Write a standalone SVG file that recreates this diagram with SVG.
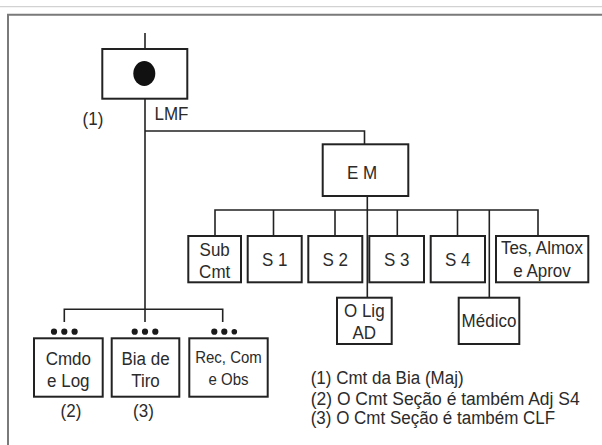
<svg xmlns="http://www.w3.org/2000/svg" width="602" height="445" viewBox="0 0 602 445">
<style>
  .box{fill:#fff;stroke:#222;stroke-width:2}
  .ln{fill:none;stroke:#222;stroke-width:1.6}
  .t{font-family:"Liberation Sans",Arial,sans-serif;font-size:17px;fill:#2b2b2b;text-anchor:middle}
  .s{font-size:15px}
  .l{text-anchor:start}
  .dot{fill:#1a1a1a}
</style>
<rect width="602" height="445" fill="#fff"/>
<line x1="0" y1="6.7" x2="602" y2="6.7" stroke="#d2d2d2" stroke-width="1.2"/>
<path d="M8 445 V14.7 H602" fill="none" stroke="#7a7a7a" stroke-width="2"/>

<g id="connectors">
  <path class="ln" d="M145 33 V49"/>
  <path class="ln" d="M145 99 V322"/>
  <path class="ln" d="M145 131 H364.5 V144.3"/>
  <path class="ln" d="M367.3 196 V297.7"/>
  <path class="ln" d="M215 236 V210 H538 V236"/>
  <path class="ln" d="M273.5 210 V236"/>
  <path class="ln" d="M335 210 V236"/>
  <path class="ln" d="M397.3 210 V236"/>
  <path class="ln" d="M457.5 210 V236"/>
  <path class="ln" d="M489.3 210 V297.7"/>
  <path class="ln" d="M64.3 322 V309.3 H222.7 V322"/>
</g>

<g id="lmf">
  <rect class="box" x="102.3" y="49" width="85" height="49.7"/>
  <ellipse cx="144.3" cy="73.5" rx="11" ry="12.5" fill="#111"/>
  <text class="t" x="93" y="0" transform="translate(0,125) scale(1,1.12)">(1)</text>
  <text class="t l" x="154.5" y="0" transform="translate(0,120) scale(1,1.12)">LMF</text>
</g>

<g id="em">
  <rect class="box" x="322.7" y="144.3" width="85.6" height="51.7"/>
  <text class="t" x="362" y="0" transform="translate(0,178.5) scale(1,1.12)">E M</text>
</g>

<g id="subcmt">
  <rect class="box" x="188.3" y="236" width="52.7" height="46.3"/>
  <text class="t" x="214.7" y="0" transform="translate(0,256) scale(1,1.12)">Sub</text>
  <text class="t" x="214.7" y="0" transform="translate(0,277.5) scale(1,1.12)">Cmt</text>
</g>
<g id="s1">
  <rect class="box" x="247.7" y="236" width="54" height="46.3"/>
  <text class="t" x="274.7" y="0" transform="translate(0,265.5) scale(1,1.12)">S 1</text>
</g>
<g id="s2">
  <rect class="box" x="308.3" y="236" width="54" height="46.3"/>
  <text class="t" x="335.3" y="0" transform="translate(0,265.5) scale(1,1.12)">S 2</text>
</g>
<g id="s3">
  <rect class="box" x="369.3" y="236" width="54.7" height="46.3"/>
  <text class="t" x="396.7" y="0" transform="translate(0,265.5) scale(1,1.12)">S 3</text>
</g>
<g id="s4">
  <rect class="box" x="430.7" y="236" width="54.3" height="46.3"/>
  <text class="t" x="457.8" y="0" transform="translate(0,265.5) scale(1,1.12)">S 4</text>
</g>
<g id="tes">
  <rect class="box" x="496" y="236" width="92.3" height="46.3"/>
  <text class="t" x="542" y="0" transform="translate(0,253.5) scale(1,1.12)">Tes, Almox</text>
  <text class="t" x="542" y="0" transform="translate(0,277) scale(1,1.12)">e Aprov</text>
</g>
<g id="olig">
  <rect class="box" x="337" y="297.7" width="54.7" height="46.3"/>
  <text class="t" x="364.3" y="0" transform="translate(0,317) scale(1,1.12)">O Lig</text>
  <text class="t" x="364.3" y="0" transform="translate(0,338.7) scale(1,1.12)">AD</text>
</g>
<g id="medico">
  <rect class="box" x="458.7" y="297.7" width="60.6" height="46.3"/>
  <text class="t" x="489" y="0" transform="translate(0,327) scale(1,1.12)">Médico</text>
</g>

<g id="cmdo">
  <circle class="dot" cx="54" cy="331.7" r="3.1"/>
  <circle class="dot" cx="64.3" cy="331.7" r="3.1"/>
  <circle class="dot" cx="74.6" cy="331.7" r="3.1"/>
  <rect class="box" x="34" y="338.3" width="68.7" height="58.4"/>
  <text class="t" x="68.3" y="0" transform="translate(0,364.5) scale(1,1.12)">Cmdo</text>
  <text class="t" x="68.3" y="0" transform="translate(0,387) scale(1,1.12)">e Log</text>
  <text class="t" x="71" y="0" transform="translate(0,417) scale(1,1.12)">(2)</text>
</g>
<g id="bia">
  <circle class="dot" cx="134.7" cy="331.7" r="3.1"/>
  <circle class="dot" cx="145" cy="331.7" r="3.1"/>
  <circle class="dot" cx="155.3" cy="331.7" r="3.1"/>
  <rect class="box" x="111.7" y="338.3" width="67.6" height="58.4"/>
  <text class="t" x="145.5" y="0" transform="translate(0,364.5) scale(1,1.12)">Bia de</text>
  <text class="t" x="145.5" y="0" transform="translate(0,387) scale(1,1.12)">Tiro</text>
  <text class="t" x="143.5" y="0" transform="translate(0,417) scale(1,1.12)">(3)</text>
</g>
<g id="rec">
  <circle class="dot" cx="214.3" cy="331.7" r="3.1"/>
  <circle class="dot" cx="224.3" cy="331.7" r="3.1"/>
  <circle class="dot" cx="234.3" cy="331.7" r="2.8"/>
  <rect class="box" x="189.3" y="338.3" width="78.4" height="58.4"/>
  <text class="t s" x="228.5" y="0" transform="translate(0,362.7) scale(1,1.12)">Rec, Com</text>
  <text class="t s" x="228.5" y="0" transform="translate(0,384.5) scale(1,1.12)">e Obs</text>
</g>

<g id="notes">
  <text class="t l" x="310.7" y="0" transform="translate(0,383.5) scale(1,1.12)">(1) Cmt da Bia (Maj)</text>
  <text class="t l" x="310.7" y="0" transform="translate(0,404.5) scale(1,1.12)" textLength="269" lengthAdjust="spacingAndGlyphs">(2) O Cmt Seção é também Adj S4</text>
  <text class="t l" x="310.7" y="0" transform="translate(0,424.2) scale(1,1.12)">(3) O Cmt Seção é também CLF</text>
</g>
</svg>
